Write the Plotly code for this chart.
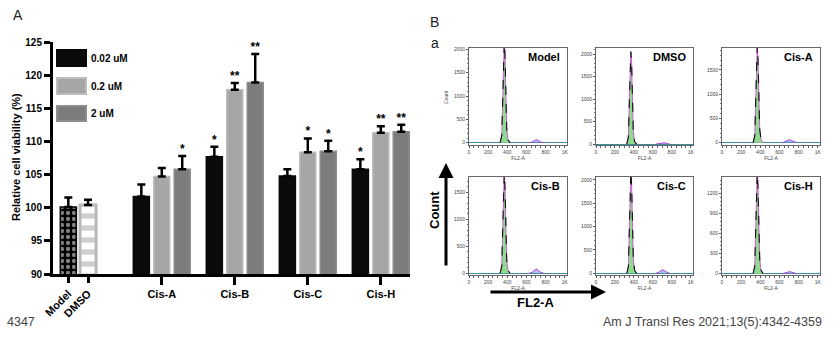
import plotly.graph_objects as go

W, H = 833, 340

# ---------------- Panel A data ----------------
groups = ["Cis-A", "Cis-B", "Cis-C", "Cis-H"]
doses = ["0.02 uM", "0.2 uM", "2 uM"]
ctrl_labels = ["Model", "DMSO"]
ctrl_values = [100.1, 100.4]
ctrl_errors = [1.45, 0.8]
val_002 = [101.7, 107.7, 104.8, 105.8]
err_002 = [1.8, 1.5, 1.0, 1.5]
val_02 = [104.7, 117.8, 108.35, 111.3]
err_02 = [1.3, 1.0, 2.1, 1.0]
val_2 = [105.8, 118.9, 108.5, 111.45]
err_2 = [2.0, 4.3, 1.6, 1.05]
sig_002 = ["", "*", "", "*"]
sig_02 = ["", "**", "*", "**"]
sig_2 = ["*", "**", "*", "**"]
y_ticks = [90, 95, 100, 105, 110, 115, 120, 125]

# ---------------- Panel B data ----------------
panel_names = ["Model", "DMSO", "Cis-A", "Cis-B", "Cis-C", "Cis-H"]
fl2_ticks = [0, 200, 400, 600, 800, 1000]
fl2_ticktext = ["0", "200", "400", "600", "800", "1K"]
count_ticks = [
    [0, 500, 1000, 1500, 2000],
    [0, 500, 1000, 1500, 2000],
    [0, 500, 1000, 1500],
    [0, 500, 1000, 1500],
    [0, 500, 1000, 1500, 2000],
    [0, 300, 600, 900, 1200],
]
count_ranges = [[-50, 2030], [-20, 2140], [-47, 1950], [-31, 1783], [-36, 2064], [-19, 1438]]
g1_x = [325, 342, 352, 360, 368, 376, 384, 394, 408, 430]
g1_counts = [
    [0, 150, 900, 1800, 2150, 1900, 1000, 300, 60, 0],
    [0, 160, 950, 1850, 2060, 1800, 900, 280, 50, 0],
    [0, 140, 850, 1700, 2000, 1750, 900, 280, 60, 0],
    [0, 130, 800, 1600, 1850, 1600, 800, 250, 50, 0],
    [0, 150, 950, 1900, 2200, 1900, 950, 300, 60, 0],
    [0, 110, 650, 1250, 1500, 1300, 650, 220, 50, 0],
]
g2_x = [630, 660, 685, 705, 725, 750, 780]
g2_counts = [
    [0, 15, 45, 65, 45, 15, 0],
    [0, 10, 30, 40, 30, 10, 0],
    [0, 20, 45, 60, 45, 20, 0],
    [0, 20, 55, 80, 55, 20, 0],
    [0, 20, 55, 75, 55, 20, 0],
    [0, 10, 25, 30, 25, 10, 0],
]

FONT = "Liberation Sans, Arial, sans-serif"

fig = go.Figure()

# group positions along the panel A axis
group_pos = [1.49, 2.49, 3.49, 4.49]
ctrl_pos = [0.21, 0.48]
offs = [-0.28, 0.0, 0.28]
bw = 0.22

colors = ["#0a0a0a", "#a6a6a6", "#7c7c7c"]
edge = ["#0a0a0a", "#bdbdbd", "#8e8e8e"]
vals = [val_002, val_02, val_2]
errs = [err_002, err_02, err_2]
sigs = [sig_002, sig_02, sig_2]

# Control bars (on overlay axis x2)
fig.add_trace(go.Bar(
    x=[ctrl_pos[0]], y=[ctrl_values[0]], width=bw, xaxis="x2", yaxis="y",
    marker=dict(color="#000", line=dict(color="#000", width=1.5),
                pattern=dict(shape=".", fgcolor="white", bgcolor="black", size=6, solidity=0.4)),
    error_y=dict(type="data", array=[ctrl_errors[0]], arrayminus=[0], symmetric=False,
                 thickness=2.5, width=4, color="#000"),
    showlegend=False, name=ctrl_labels[0]))
fig.add_trace(go.Bar(
    x=[ctrl_pos[1]], y=[ctrl_values[1]], width=bw, xaxis="x2", yaxis="y",
    marker=dict(color="#a8a8a8", line=dict(color="#b8b8b8", width=3),
                pattern=dict(shape="-", fgcolor="#a0a0a0", bgcolor="white", size=12, solidity=0.45)),
    error_y=dict(type="data", array=[ctrl_errors[1]], arrayminus=[0], symmetric=False,
                 thickness=2.5, width=4, color="#000"),
    showlegend=False, name=ctrl_labels[1]))

for i in range(3):
    xs = [p + offs[i] for p in group_pos]
    fig.add_trace(go.Bar(
        x=xs, y=vals[i], width=bw, xaxis="x", yaxis="y",
        marker=dict(color=colors[i], line=dict(color=edge[i], width=1.5)),
        error_y=dict(type="data", array=errs[i], arrayminus=[0] * 4, symmetric=False,
                     thickness=2.5, width=4, color="#000"),
        showlegend=False, name=doses[i]))
    fig.add_trace(go.Scatter(
        x=xs, y=[v + e for v, e in zip(vals[i], errs[i])], mode="text", text=sigs[i],
        textposition="top center", xaxis="x", yaxis="y",
        textfont=dict(family=FONT, size=12, color="#000", weight="bold"),
        showlegend=False, hoverinfo="skip", cliponaxis=False))

px_x = lambda p: p / W
px_y = lambda p: 1 - p / H

layout = dict(
    width=W, height=H, margin=dict(l=0, r=0, t=0, b=0, autoexpand=False),
    paper_bgcolor="white", plot_bgcolor="rgba(0,0,0,0)",
    font=dict(family=FONT, color="#000"),
    barmode="overlay", showlegend=False,
    xaxis=dict(domain=[px_x(53), px_x(410)], range=[0, 4.89], anchor="y", automargin=False,
               tickvals=group_pos, ticktext=groups, ticks="outside", ticklen=8, tickwidth=3,
               tickcolor="#000", showline=True, linewidth=3, linecolor="#000",
               showgrid=False, zeroline=False,
               tickfont=dict(size=11, weight="bold", family=FONT)),
    xaxis2=dict(domain=[px_x(53), px_x(410)], range=[0, 4.89], anchor="y", overlaying="x",
                automargin=False,
                tickvals=ctrl_pos, ticktext=ctrl_labels, tickangle=-45, ticks="outside",
                ticklen=8, tickwidth=3, tickcolor="#000", showline=False, showgrid=False,
                zeroline=False, tickfont=dict(size=11, weight="bold", family=FONT)),
    yaxis=dict(domain=[px_y(274), px_y(42)], range=[90, 125], anchor="x", automargin=False,
               tickvals=y_ticks, ticks="outside", ticklen=6, tickwidth=3, tickcolor="#000",
               showline=True, linewidth=3, linecolor="#000", showgrid=False, zeroline=False,
               tickfont=dict(size=10, weight="bold", family=FONT)),
)

# Panel B histograms
cols_px = [(469, 567), (596, 693), (722, 820)]
rows_px = [(48, 145), (177, 275)]
for k in range(6):
    r, c = divmod(k, 3)
    xa = f"xaxis{k + 3}"
    ya = f"yaxis{k + 2}"
    xr = f"x{k + 3}"
    yr = f"y{k + 2}"
    layout[xa] = dict(domain=[px_x(cols_px[c][0]), px_x(cols_px[c][1])], range=[0, 1024],
                      anchor=yr, automargin=False,
                      tickvals=fl2_ticks, ticktext=fl2_ticktext, ticks="outside",
                      ticklen=2, tickwidth=1, tickcolor="#555", showline=True, mirror=True,
                      linecolor="#666", linewidth=1, showgrid=False, zeroline=False,
                      tickfont=dict(size=5, color="#444"),
                      minor=dict(ticks="outside", ticklen=1.5, dtick=50, tickcolor="#666"),
                      title=dict(text="FL2-A", font=dict(size=5, color="#444"), standoff=2))
    layout[ya] = dict(domain=[px_y(rows_px[r][1]), px_y(rows_px[r][0])], range=count_ranges[k],
                      anchor=xr, automargin=False,
                      tickvals=count_ticks[k], ticks="outside", ticklen=2,
                      tickwidth=1, tickcolor="#555", showline=True, mirror=True,
                      linecolor="#666", linewidth=1, showgrid=False,
                      zeroline=True, zerolinecolor="#3a8f9a", zerolinewidth=1.2,
                      tickfont=dict(size=5, color="#444"),
                      minor=dict(ticks="outside", ticklen=1.5, dtick=count_ticks[k][1] / 5,
                                 tickcolor="#777"))
    fig.add_trace(go.Scatter(x=g1_x, y=g1_counts[k], xaxis=xr, yaxis=yr, mode="lines",
                             fill="tozeroy", fillcolor="#8ddc8d",
                             line=dict(color="#d63bd6", width=0.8), showlegend=False,
                             hoverinfo="skip"))
    fig.add_trace(go.Scatter(x=g1_x, y=g1_counts[k], xaxis=xr, yaxis=yr, mode="lines",
                             line=dict(color="#111", width=1.1, dash="dash"), showlegend=False,
                             hoverinfo="skip"))
    fig.add_trace(go.Scatter(x=g2_x, y=g2_counts[k], xaxis=xr, yaxis=yr, mode="lines",
                             fill="tozeroy", fillcolor="rgba(110,140,235,0.55)",
                             line=dict(color="#b040d0", width=1), showlegend=False,
                             hoverinfo="skip"))

fig.update_layout(**layout)

# Legend boxes for panel A
shapes = []
leg_y = [(50, 66), (78, 94), (106, 121)]
for i in range(3):
    shapes.append(dict(type="rect", xref="paper", yref="paper",
                       x0=px_x(57), x1=px_x(86), y0=px_y(leg_y[i][1]), y1=px_y(leg_y[i][0]),
                       fillcolor=colors[i], line=dict(color=edge[i], width=2)))
fig.update_layout(shapes=shapes)

ann = []
for i in range(3):
    ann.append(dict(xref="paper", yref="paper", x=px_x(89), y=px_y((leg_y[i][0] + leg_y[i][1]) / 2),
                    text=doses[i], showarrow=False, xanchor="left", yanchor="middle",
                    font=dict(size=10, weight="bold", family=FONT)))
for k in range(6):
    ann.append(dict(xref=f"x{k + 3} domain", yref=f"y{k + 2} domain", x=0.95, y=0.905,
                    text=panel_names[k], showarrow=False, xanchor="right", yanchor="middle",
                    font=dict(size=11, weight="bold", family=FONT)))
# Panel letters, titles and footer
ann += [
    dict(xref="paper", yref="paper", x=px_x(16), y=px_y(157), text="Relative cell viability (%)",
         textangle=-90, showarrow=False, xanchor="center", yanchor="middle",
         font=dict(size=11, weight="bold", family=FONT)),
    dict(xref="x3 domain", yref="y2 domain", x=-0.24, y=0.5, text="Count", textangle=-90,
         showarrow=False, xanchor="center", yanchor="middle", font=dict(size=5, color="#444")),
    dict(xref="paper", yref="paper", x=px_x(11), y=px_y(15), text="A", showarrow=False,
         xanchor="left", yanchor="middle", font=dict(size=14, color="#222")),
    dict(xref="paper", yref="paper", x=px_x(428), y=px_y(22), text="B", showarrow=False,
         xanchor="left", yanchor="middle", font=dict(size=14, color="#222")),
    dict(xref="paper", yref="paper", x=px_x(429), y=px_y(43), text="a", showarrow=False,
         xanchor="left", yanchor="middle", font=dict(size=14, color="#222")),
    dict(xref="paper", yref="paper", x=px_x(5), y=px_y(322), text="4347", showarrow=False,
         xanchor="left", yanchor="middle", font=dict(size=12.5, color="#444")),
    dict(xref="paper", yref="paper", x=px_x(824), y=px_y(322),
         text="Am J Transl Res 2021;13(5):4342-4359", showarrow=False,
         xanchor="right", yanchor="middle", font=dict(size=12.5, color="#444")),
    # big arrows
    dict(xref="paper", yref="paper", x=px_x(446), y=px_y(163), ax=0, ay=104, text="",
         showarrow=True, arrowhead=2, arrowsize=1, arrowwidth=3, arrowcolor="#000"),
    dict(xref="paper", yref="paper", x=px_x(606), y=px_y(292), ax=-117, ay=0, text="",
         showarrow=True, arrowhead=2, arrowsize=1, arrowwidth=3, arrowcolor="#000"),
    dict(xref="paper", yref="paper", x=px_x(434), y=px_y(210), text="Count", textangle=-90,
         showarrow=False, xanchor="center", yanchor="middle",
         font=dict(size=13, weight="bold", family=FONT)),
    dict(xref="paper", yref="paper", x=px_x(535), y=px_y(302), text="FL2-A",
         showarrow=False, xanchor="center", yanchor="middle",
         font=dict(size=13, weight="bold", family=FONT)),
]
fig.update_layout(annotations=ann)

fig.write_html("out.html")
